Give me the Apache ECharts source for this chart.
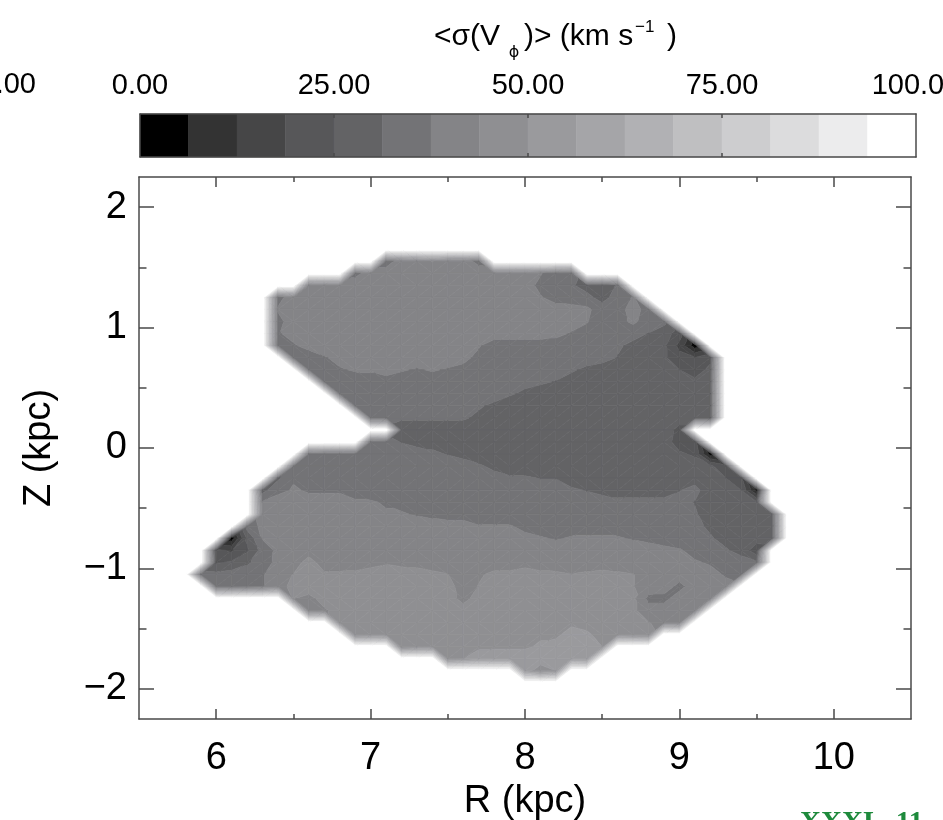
<!DOCTYPE html>
<html>
<head>
<meta charset="utf-8">
<script src="https://cdn.jsdelivr.net/npm/echarts@6.0.0/dist/echarts.min.js"></script>
<style>
  html, body { margin: 0; padding: 0; background: #ffffff; }
  #chart { width: 943px; height: 820px; }
</style>
</head>
<body>
<div id="chart"></div>
<script>
// Contour levels of <sigma(V_phi)> in km/s and their grey shades
const LEVELS = [0, 6.25, 12.5, 18.75, 25, 31.25, 37.5, 43.75, 50, 56.25, 62.5, 68.75, 75, 81.25, 87.5, 93.75, 100];
const LEVEL_COLORS = ['#000000', '#333333', '#464647', '#575759', '#636365', '#737376', '#848487', '#8f8f92',
                      '#9a9a9d', '#a5a5a8', '#b1b1b4', '#bfbfc1', '#cdcdcf', '#dcdcdd', '#ececed', '#ffffff'];
const CBAR_LABELS = [0, 25, 50, 75, 100];
const CBAR_TICKS = [25, 50, 75];

// Axis ticks
const R_TICKS = [6, 7, 8, 9, 10];
const R_MINOR = [6.5, 7.5, 8.5, 9.5];
const Z_TICKS = [-2, -1, 0, 1, 2];
const Z_MINOR = [-1.5, -0.5, 0.5, 1.5];

// Binned map: bin spacing in R and Z (kpc)
const R_STEP = 0.1;
const Z_STEP = 0.1;
// Z of each row of bins (kpc), top to bottom
const Z_ROWS = [1.55, 1.45, 1.35, 1.25, 1.15, 1.05, 0.95, 0.85, 0.75, 0.65, 0.55, 0.45, 0.35, 0.25, 0.15, 0.05,
                -0.05, -0.15, -0.25, -0.35, -0.45, -0.55, -0.65, -0.75, -0.85, -0.95, -1.05, -1.15, -1.25,
                -1.35, -1.45, -1.55, -1.65, -1.75, -1.85];
// R of the first filled bin in each row (kpc)
const ROW_START_R = [7.1, 6.9, 6.6, 6.4, 6.4, 6.4, 6.4, 6.4, 6.5, 6.6, 6.7, 6.8, 6.9, 7.0, 7.2, 7.0,
                     6.6, 6.5, 6.4, 6.3, 6.3, 6.3, 6.2, 6.1, 6.0, 6.0, 5.9, 6.0, 6.5,
                     6.6, 6.8, 6.9, 7.2, 7.5, 8.0];
// <sigma(V_phi)> of the filled bins in each row (km/s), left to right
const SIGMA = [
  [35, 40, 41, 44, 40, 40, 36],
  [36, 40, 40, 41, 42, 41, 40, 40, 40, 40, 40, 40, 38, 34, 33],
  [40, 40, 40, 40, 40, 40, 40, 40, 40, 40, 40, 40, 40, 40, 40, 36, 33, 32, 29, 27, 32],
  [36, 40, 40, 40, 40, 40, 40, 40, 40, 40, 40, 40, 40, 40, 40, 40, 40, 38, 35, 34, 33, 29, 34, 38],
  [38, 40, 40, 40, 40, 40, 40, 40, 40, 40, 40, 40, 40, 40, 40, 40, 40, 40, 40, 40, 39, 34, 35, 40, 35],
  [36, 40, 40, 40, 40, 40, 40, 40, 40, 40, 40, 40, 40, 40, 40, 40, 40, 40, 40, 40, 38, 34, 35, 39, 34, 33],
  [37, 39, 40, 40, 40, 40, 40, 40, 40, 40, 40, 40, 40, 40, 40, 40, 40, 40, 39, 37, 35, 34, 34, 33, 31, 28, 22],
  [35, 37, 39, 40, 40, 40, 40, 40, 40, 40, 40, 40, 40, 38, 35, 35, 35, 35, 35, 34, 34, 33, 32, 30, 28, 26, 17, 3],
  [34, 35, 37, 39, 40, 40, 40, 40, 40, 40, 40, 39, 36, 35, 34, 34, 34, 34, 34, 34, 33, 31, 29, 27, 26, 21, 19, 24],
  [34, 35, 37, 38, 38, 39, 38, 37, 38, 37, 36, 35, 34, 34, 34, 34, 33, 32, 30, 29, 28, 28, 28, 28, 25, 23, 26],
  [34, 34, 35, 36, 36, 35, 35, 35, 34, 34, 34, 34, 34, 33, 32, 31, 29, 28, 28, 28, 28, 28, 28, 27, 26, 27],
  [34, 34, 35, 35, 34, 34, 34, 34, 34, 34, 34, 32, 30, 29, 28, 28, 28, 28, 28, 28, 28, 28, 28, 28, 28],
  [34, 34, 34, 34, 34, 34, 34, 34, 32, 30, 28, 28, 28, 28, 28, 28, 28, 28, 28, 28, 28, 28, 28, 28],
  [34, 34, 32, 32, 32, 32, 32, 30, 28, 28, 28, 28, 28, 28, 28, 28, 28, 28, 28, 28, 28, 28, 28],
  [28, 28, 28, 28, 28, 28, 28, 28, 28, 28, 28, 28, 28, 28, 28, 28, 28, 28, 23],
  [34, 33, 31, 30, 30, 29, 28, 28, 28, 28, 28, 28, 28, 28, 28, 28, 28, 28, 28, 28, 22, 21],
  [35, 34, 34, 34, 34, 34, 34, 33, 32, 31, 30, 28, 28, 28, 28, 28, 28, 28, 28, 28, 28, 28, 28, 28, 26, 24, 4],
  [37, 35, 34, 34, 34, 34, 34, 34, 34, 34, 34, 33, 32, 30, 28, 28, 28, 28, 28, 28, 28, 28, 28, 28, 28, 28, 28, 26, 21],
  [30, 37, 35, 34, 34, 34, 34, 34, 34, 34, 34, 34, 34, 34, 33, 32, 32, 31, 31, 29, 28, 28, 28, 28, 28, 28, 28, 29, 28, 25, 20],
  [29, 36, 38, 37, 37, 37, 36, 35, 35, 34, 34, 34, 34, 34, 34, 34, 34, 34, 34, 34, 32, 31, 30, 30, 30, 30, 30, 31, 33, 28, 27, 25, 5],
  [38, 40, 40, 39, 39, 39, 38, 38, 37, 36, 35, 34, 34, 34, 34, 34, 34, 34, 34, 34, 34, 33, 33, 32, 32, 32, 32, 33, 31, 28, 28, 28, 26],
  [40, 40, 40, 40, 40, 40, 40, 40, 38, 38, 37, 36, 35, 35, 34, 34, 34, 34, 34, 34, 34, 34, 34, 34, 34, 34, 34, 34, 32, 28, 28, 28, 28, 29],
  [34, 39, 40, 40, 40, 40, 40, 40, 40, 40, 40, 40, 40, 40, 40, 38, 38, 38, 36, 35, 35, 35, 36, 36, 35, 35, 34, 34, 34, 33, 30, 28, 28, 28, 29],
  [3, 26, 38, 40, 40, 40, 40, 40, 40, 40, 40, 40, 40, 40, 40, 40, 40, 40, 40, 39, 38, 37, 38, 38, 38, 38, 37, 36, 35, 35, 34, 32, 29, 28, 28, 29],
  [20, 18, 24, 34, 39, 40, 40, 40, 40, 40, 40, 40, 40, 40, 40, 40, 40, 40, 40, 40, 40, 40, 40, 40, 40, 40, 40, 40, 40, 39, 38, 36, 35, 32, 29, 21],
  [24, 26, 30, 35, 39, 40, 47, 40, 40, 41, 42, 43, 42, 42, 41, 40, 40, 40, 41, 41, 42, 41, 40, 40, 40, 40, 40, 40, 40, 40, 40, 38, 37, 35, 34, 32],
  [34, 33, 34, 35, 37, 41, 44, 45, 45, 45, 45, 46, 47, 47, 46, 45, 44, 40, 43, 45, 45, 46, 45, 45, 44, 45, 46, 45, 44, 41, 40, 40, 40, 39, 37, 36],
  [35, 35, 36, 37, 42, 45, 47, 47, 47, 47, 48, 48, 48, 48, 47, 46, 41, 44, 47, 47, 48, 47, 47, 46, 47, 47, 47, 44, 41, 40, 36, 40, 40, 39],
  [44, 42, 46, 47, 47, 48, 48, 48, 48, 47, 46, 42, 46, 47, 48, 48, 48, 47, 44, 47, 47, 47, 45, 36, 36, 40, 40, 40],
  [41, 43, 46, 47, 48, 48, 48, 48, 48, 47, 46, 47, 48, 48, 49, 48, 48, 47, 47, 46, 47, 45, 40, 40, 40, 40],
  [46, 47, 48, 48, 48, 48, 48, 48, 48, 49, 49, 49, 49, 49, 49, 49, 48, 47, 46, 45, 44, 42, 42],
  [46, 47, 48, 48, 48, 48, 48, 48, 48, 49, 49, 49, 49, 49, 52, 51, 48, 47, 46, 45],
  [44, 47, 48, 48, 49, 49, 49, 49, 49, 51, 52, 54, 53, 50],
  [48, 50, 53, 54, 54, 54, 54, 54, 53, 52],
  [54, 46, 50]
];

// ---- regular node grid, with one ring of empty bins around the map ----
const EMPTY = null;
const EMPTY_AS = LEVELS[LEVELS.length - 1]; // empty bins are drawn at the top of the scale (white)
const rMin = Math.min(...ROW_START_R) - R_STEP;
const rMax = Math.max(...ROW_START_R.map((r, i) => r + (SIGMA[i].length - 1) * R_STEP)) + R_STEP;
const nCols = Math.round((rMax - rMin) / R_STEP) + 1;
const zNodes = [Z_ROWS[0] + Z_STEP].concat(Z_ROWS, [Z_ROWS[Z_ROWS.length - 1] - Z_STEP]);
const grid = zNodes.map(() => new Array(nCols).fill(EMPTY));
Z_ROWS.forEach((z, i) => {
  const c0 = Math.round((ROW_START_R[i] - rMin) / R_STEP);
  SIGMA[i].forEach((v, k) => { grid[i + 1][c0 + k] = v; });
});
const rNode = (c) => +(rMin + c * R_STEP).toFixed(3);

// one entry per grid cell that touches a filled bin
const CELLS = [];
for (let i = 0; i < zNodes.length - 1; i++) {
  for (let c = 0; c < nCols - 1; c++) {
    const vTL = grid[i][c], vTR = grid[i][c + 1], vBL = grid[i + 1][c], vBR = grid[i + 1][c + 1];
    if (vTL === EMPTY && vTR === EMPTY && vBL === EMPTY && vBR === EMPTY) continue;
    const zt = zNodes[i], zb = zNodes[i + 1], rl = rNode(c), rr = rNode(c + 1);
    CELLS.push({
      rl, rr, zb, zt,
      corners: [[rl, zb, vBL], [rr, zb, vBR], [rr, zt, vTR], [rl, zt, vTL]]
    });
  }
}

// keep the part of a polygon (points [x, y, value]) on one side of a level
function clipAtLevel(poly, level, keepAbove) {
  const out = [];
  for (let i = 0; i < poly.length; i++) {
    const a = poly[i], b = poly[(i + 1) % poly.length];
    const ina = keepAbove ? a[2] >= level : a[2] < level;
    const inb = keepAbove ? b[2] >= level : b[2] < level;
    if (ina) out.push(a);
    if (ina !== inb) {
      const t = (level - a[2]) / (b[2] - a[2]);
      out.push([a[0] + t * (b[0] - a[0]), a[1] + t * (b[1] - a[1]), level]);
    }
  }
  return out;
}

// filled contours of one cell, split into two triangles along its flatter diagonal
function renderContourCell(params, api) {
  const cell = CELLS[params.dataIndex];
  const p = cell.corners.map((c) => {
    const xy = api.coord([c[0], c[1]]);
    return [xy[0], xy[1], c[2] === EMPTY ? EMPTY_AS : c[2]];
  });
  const tris = Math.abs(p[0][2] - p[2][2]) <= Math.abs(p[1][2] - p[3][2])
    ? [[p[0], p[1], p[2]], [p[0], p[2], p[3]]]
    : [[p[1], p[2], p[3]], [p[1], p[3], p[0]]];
  const children = [];
  const nBands = LEVEL_COLORS.length;
  tris.forEach((tri) => {
    const vmin = Math.min(tri[0][2], tri[1][2], tri[2][2]);
    const vmax = Math.max(tri[0][2], tri[1][2], tri[2][2]);
    for (let k = 0; k < nBands; k++) {
      const lo = k === 0 ? -Infinity : LEVELS[k];
      const hi = k === nBands - 1 ? Infinity : LEVELS[k + 1];
      if (vmax < lo || vmin >= hi) continue;
      let poly = tri;
      if (isFinite(lo)) poly = clipAtLevel(poly, lo, true);
      if (poly.length >= 3 && isFinite(hi)) poly = clipAtLevel(poly, hi, false);
      if (poly.length < 3) continue;
      children.push({
        type: 'polygon',
        shape: { points: poly.map((q) => [q[0], q[1]]) },
        style: { fill: LEVEL_COLORS[k], stroke: LEVEL_COLORS[k], lineWidth: 0.7 }
      });
    }
  });
  return { type: 'group', children };
}

// colour bar cells
function renderBarCell(params, api) {
  const p0 = api.coord([api.value(0), 0]);
  const p1 = api.coord([api.value(1), 1]);
  return {
    type: 'rect',
    shape: { x: p0[0], y: p1[1], width: p1[0] - p0[0], height: p0[1] - p1[1] },
    style: { fill: LEVEL_COLORS[params.dataIndex], stroke: LEVEL_COLORS[params.dataIndex], lineWidth: 0.5 }
  };
}

const FONT = '"Liberation Sans", Arial, Helvetica, sans-serif';
const AXIS_COLOR = '#4a4a4a';
const lineStyle = { color: AXIS_COLOR, width: 1.5 };
const minus = (v) => (v < 0 ? '\u2212' + Math.abs(v) : String(v));

function frameAxis(o) {
  return {
    type: 'value',
    gridIndex: o.grid,
    position: o.position,
    min: o.min,
    max: o.max,
    z: 10,
    splitLine: { show: false },
    axisLine: { show: !!o.line, onZero: false, lineStyle },
    axisTick: o.ticks ? { show: true, inside: true, length: o.tickLen, customValues: o.ticks, lineStyle } : { show: false },
    axisLabel: o.labels ? Object.assign({
      show: true, customValues: o.labels, color: '#000', fontFamily: FONT
    }, o.labelStyle) : { show: false },
    name: o.name || '',
    nameLocation: 'middle',
    nameGap: o.nameGap || 0,
    nameTextStyle: { color: '#000', fontFamily: FONT, fontSize: 38 }
  };
}

const TITLE_FONT = '30px ' + FONT;
const chart = echarts.init(document.getElementById('chart'));
chart.setOption({
  animation: false,
  backgroundColor: '#ffffff',
  grid: [
    { left: 139, top: 177, width: 772, height: 542, outerBoundsMode: 'none' },
    { left: 140, top: 114, width: 776, height: 43, outerBoundsMode: 'none' }
  ],
  xAxis: [
    frameAxis({ grid: 0, position: 'bottom', min: 5.5, max: 10.5, line: true, ticks: R_TICKS, tickLen: 10,
                labels: R_TICKS, labelStyle: { fontSize: 38, margin: 21 }, name: 'R (kpc)', nameGap: 64 }),
    frameAxis({ grid: 0, position: 'bottom', min: 5.5, max: 10.5, ticks: R_MINOR, tickLen: 5 }),
    frameAxis({ grid: 0, position: 'top', min: 5.5, max: 10.5, line: true, ticks: R_TICKS, tickLen: 10 }),
    frameAxis({ grid: 0, position: 'top', min: 5.5, max: 10.5, ticks: R_MINOR, tickLen: 5 }),
    frameAxis({ grid: 1, position: 'top', min: 0, max: 100, line: true, ticks: CBAR_TICKS, tickLen: 4,
                labels: CBAR_LABELS, labelStyle: { fontSize: 29, margin: 14, formatter: (v) => v.toFixed(2) } }),
    frameAxis({ grid: 1, position: 'bottom', min: 0, max: 100, line: true, ticks: CBAR_TICKS, tickLen: 4 })
  ],
  yAxis: [
    frameAxis({ grid: 0, position: 'left', min: -2.25, max: 2.25, line: true, ticks: Z_TICKS, tickLen: 15,
                labels: Z_TICKS, labelStyle: { fontSize: 38, margin: 12, formatter: minus }, name: 'Z (kpc)', nameGap: 80 }),
    frameAxis({ grid: 0, position: 'left', min: -2.25, max: 2.25, ticks: Z_MINOR, tickLen: 7.5 }),
    frameAxis({ grid: 0, position: 'right', min: -2.25, max: 2.25, line: true, ticks: Z_TICKS, tickLen: 15 }),
    frameAxis({ grid: 0, position: 'right', min: -2.25, max: 2.25, ticks: Z_MINOR, tickLen: 7.5 }),
    frameAxis({ grid: 1, position: 'left', min: 0, max: 1, line: true }),
    frameAxis({ grid: 1, position: 'right', min: 0, max: 1, line: true })
  ],
  series: [
    {
      type: 'custom',
      xAxisIndex: 0,
      yAxisIndex: 0,
      data: CELLS.map((c) => [c.rl, c.zb, c.rr, c.zt]),
      encode: { x: [0, 2], y: [1, 3] },
      renderItem: renderContourCell,
      clip: true,
      silent: true
    },
    {
      type: 'custom',
      xAxisIndex: 4,
      yAxisIndex: 4,
      data: LEVEL_COLORS.map((c, k) => [LEVELS[k], LEVELS[k + 1]]),
      encode: { x: [0, 1] },
      renderItem: renderBarCell,
      silent: true
    }
  ],
  graphic: [
    // colour bar title: <sigma(V_phi)> (km s^-1)
    { type: 'text', x: 434, y: 37, silent: true,
      style: { text: '<\u03c3(V', fill: '#000', font: TITLE_FONT, align: 'left', verticalAlign: 'middle' } },
    { type: 'text', x: 514, y: 53, silent: true,
      style: { text: '\u03d5', fill: '#000', font: '16px "DejaVu Sans", ' + FONT, align: 'center', verticalAlign: 'middle' } },
    { type: 'text', x: 524, y: 37, silent: true,
      style: { text: ')> (km s', fill: '#000', font: TITLE_FONT, align: 'left', verticalAlign: 'middle' } },
    { type: 'text', x: 635, y: 27, silent: true,
      style: { text: '\u22121', fill: '#000', font: '17px ' + FONT, align: 'left', verticalAlign: 'middle' } },
    { type: 'text', x: 667, y: 37, silent: true,
      style: { text: ')', fill: '#000', font: TITLE_FONT, align: 'left', verticalAlign: 'middle' } },
    // end of the neighbouring colour bar's scale
    { type: 'text', x: 36, y: 85, silent: true,
      style: { text: '100.00', fill: '#000', font: '29px ' + FONT, align: 'right', verticalAlign: 'middle' } },
    // page mark
    { type: 'text', x: 800, y: 809, silent: true,
      style: { text: 'XXXI,  11', fill: '#1e8a3c', font: 'bold 29px "Liberation Serif", serif', align: 'left', verticalAlign: 'top' } }
  ]
});
</script>
</body>
</html>
